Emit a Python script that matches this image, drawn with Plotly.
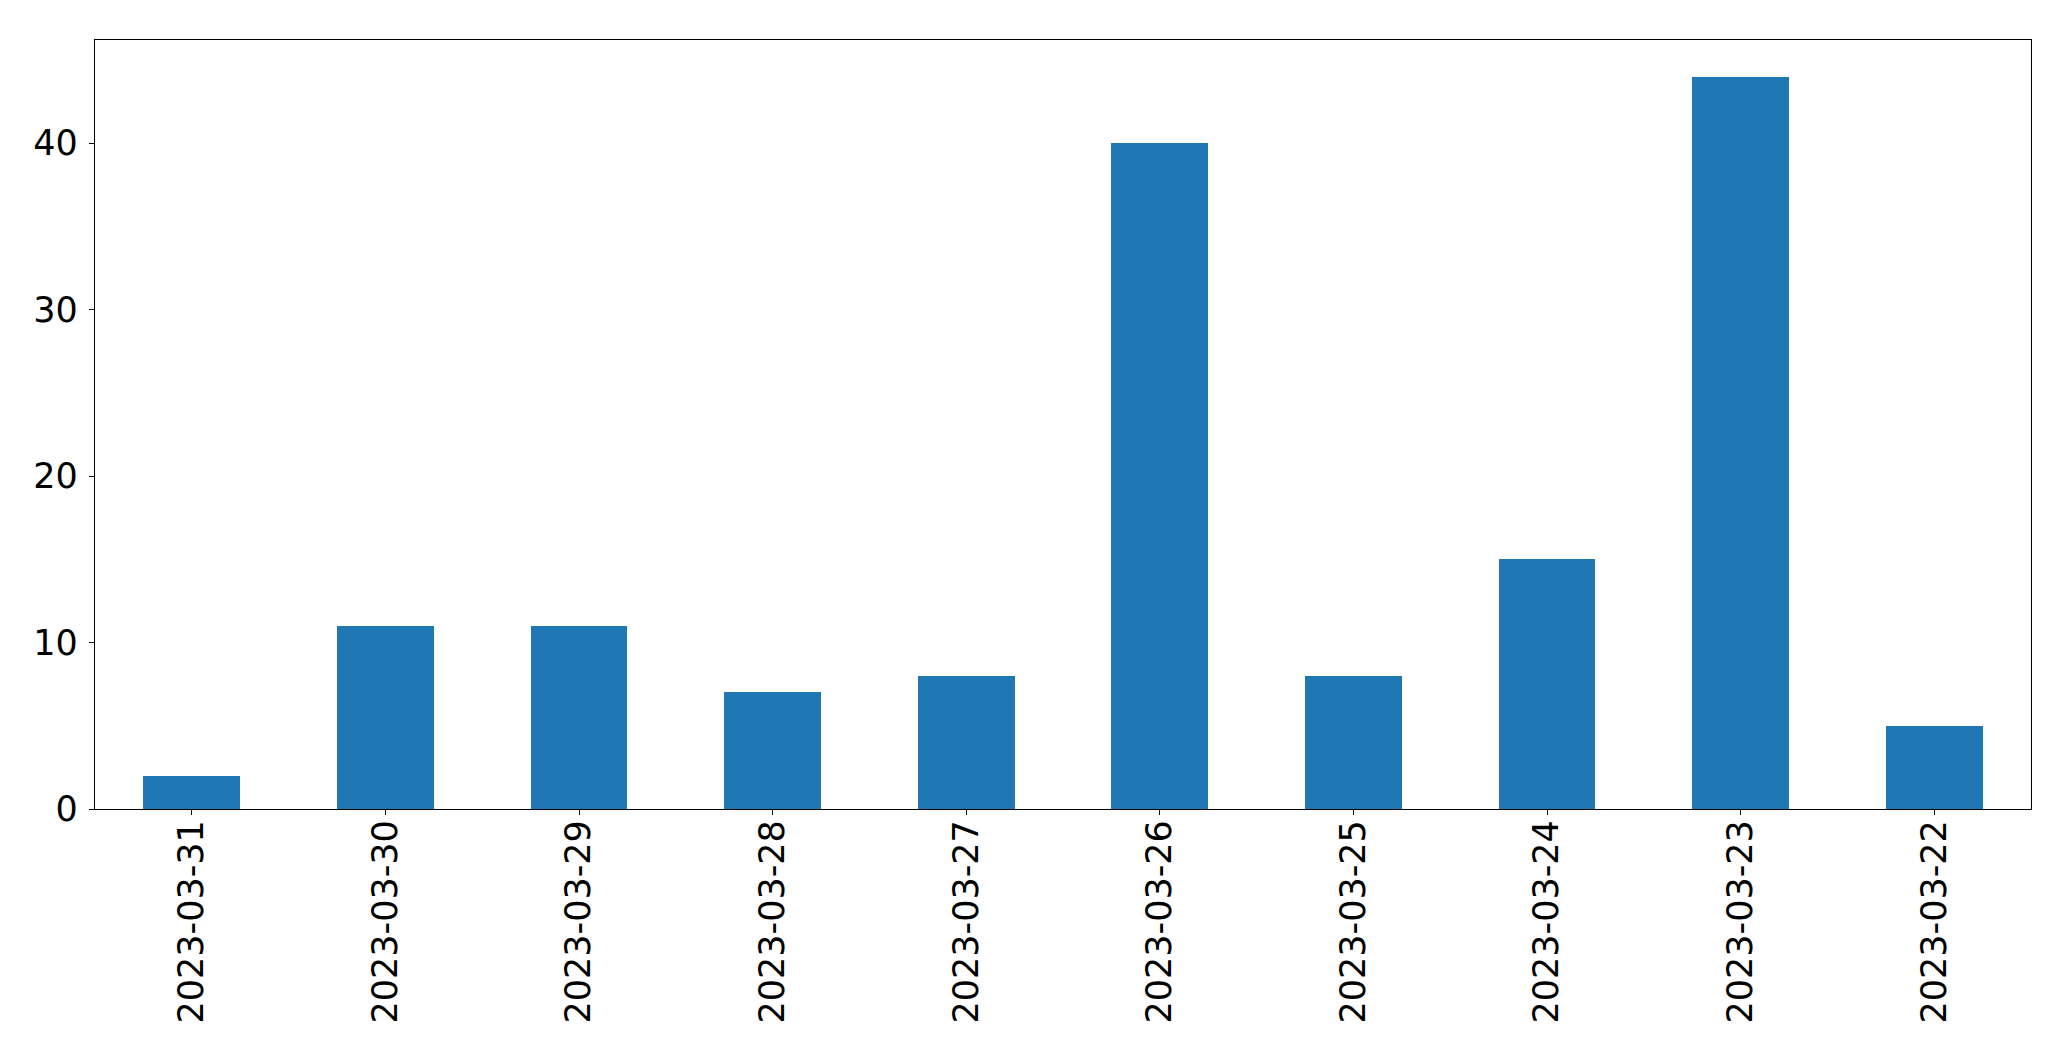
import plotly.graph_objects as go

dates = ["2023-03-31", "2023-03-30", "2023-03-29", "2023-03-28", "2023-03-27",
         "2023-03-26", "2023-03-25", "2023-03-24", "2023-03-23", "2023-03-22"]
counts = [2, 11, 11, 7, 8, 40, 8, 15, 44, 5]
y_ticks = [0, 10, 20, 30, 40]

fig = go.Figure(go.Bar(x=dates, y=counts, marker=dict(color="#1f77b4", line=dict(width=0)), width=0.5))

fig.update_layout(
    width=2071, height=1061,
    margin=dict(l=94.5, r=39.5, t=39.5, b=252),
    paper_bgcolor="white", plot_bgcolor="white",
    font=dict(family="DejaVu Sans", size=35, color="black"),
    showlegend=False,
    bargap=0,
)
fig.update_xaxes(
    type="category", range=[-0.5, 9.5], tickangle=-90,
    showline=True, mirror=True, linecolor="black", linewidth=1.3,
    ticks="outside", ticklen=5, tickwidth=1.3, tickcolor="black",
    showgrid=False, zeroline=False, ticklabelstandoff=-9,
)
fig.update_yaxes(
    range=[0, 46.2], tickvals=y_ticks,
    showline=True, mirror=True, linecolor="black", linewidth=1.3,
    ticks="outside", ticklen=5, tickwidth=1.3, tickcolor="black",
    showgrid=False, zeroline=False, ticklabelstandoff=4,
)
fig.write_html("out.html", config={"displayModeBar": False},
               post_script="document.body.style.margin='0px';document.body.style.overflow='hidden';")
